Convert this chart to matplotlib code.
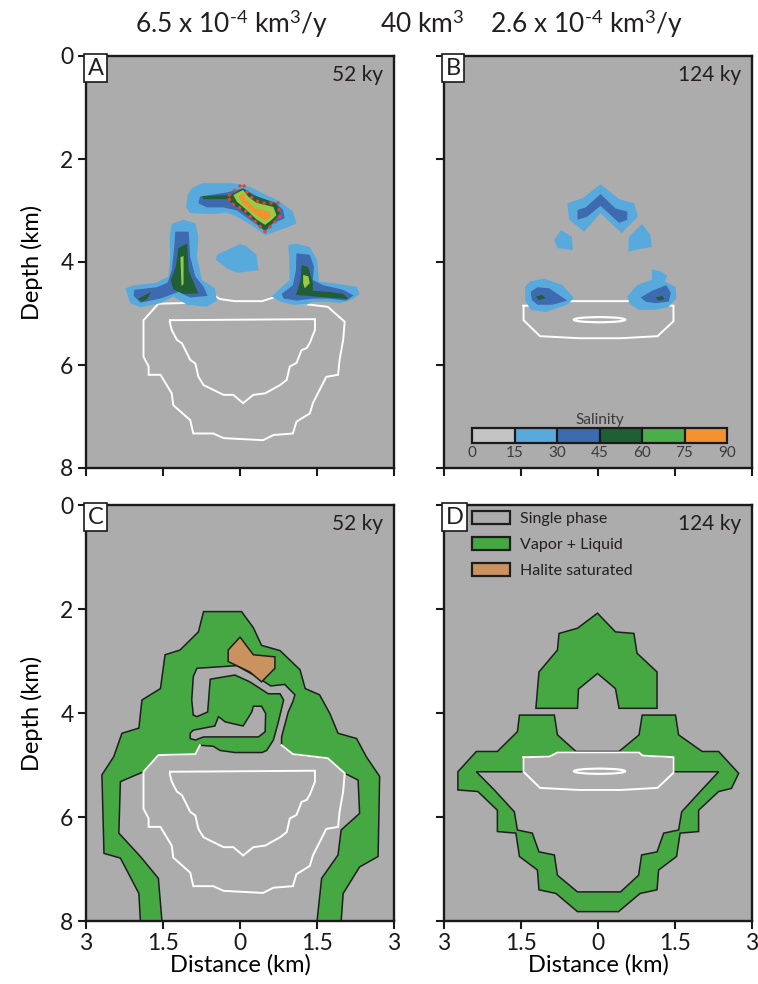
import matplotlib
matplotlib.use("Agg")
import matplotlib.pyplot as plt
from matplotlib.patches import Polygon, Ellipse, Patch
from matplotlib.colors import ListedColormap, BoundaryNorm
from matplotlib.colorbar import ColorbarBase

plt.rcParams['font.family'] = ['Lato', 'DejaVu Sans']
plt.rcParams['mathtext.fontset'] = 'custom'
plt.rcParams['mathtext.rm'] = 'Lato'
plt.rcParams['mathtext.it'] = 'Lato:italic'
plt.rcParams['text.color'] = '#231f20'

# ---------------- data: (distance km, depth km) ----------------
header = [r"6.5 x 10$^{\text{-4}}$ km$^{3}$/y", r"40 km$^{3}$", r"2.6 x 10$^{\text{-4}}$ km$^{3}$/y"]
times = ['52 ky', '124 ky', '52 ky', '124 ky']
panel_letters = ['A', 'B', 'C', 'D']
x_ticks = [-3, -1.5, 0, 1.5, 3]
x_ticklabels = ['3', '1.5', '0', '1.5', '3']
depth_ticks = [0, 2, 4, 6, 8]

sal_bounds = [0, 15, 30, 45, 60, 75, 90]
sal_colors = ['#c4c4c4', '#58aadd', '#3e6ab0', '#1f5f33', '#4cae4a', '#f3922e']
phase_labels = ['Single phase', 'Vapor + Liquid', 'Halite saturated']

# temperature-like white contours, 52 ky (outer starts right of the top arc)
outer52 = [(0.81, 4.62), (1.03, 4.79), (1.71, 4.87), (2.04, 5.16), (2.01, 5.51), (1.94, 5.90),
           (1.91, 6.19), (1.68, 6.23), (1.42, 6.74), (1.36, 6.94), (1.10, 7.10), (1.03, 7.33),
           (0.65, 7.36), (0.45, 7.46), (-0.32, 7.42), (-0.52, 7.33), (-0.91, 7.33), (-0.97, 7.07),
           (-1.30, 6.78), (-1.33, 6.55), (-1.55, 6.19), (-1.78, 6.19), (-1.78, 6.03), (-1.88, 5.84),
           (-1.88, 5.13), (-1.59, 4.81), (-0.87, 4.79), (-0.78, 4.62)]
arc52 = [(-0.52, 4.64), (-0.39, 4.72), (-0.10, 4.76), (0.43, 4.76), (0.62, 4.70)]
inner52 = [(-1.36, 5.13), (1.46, 5.11), (1.46, 5.32), (1.36, 5.57), (1.30, 5.67), (1.20, 5.71),
           (1.10, 5.96), (0.97, 6.03), (0.91, 6.29), (0.78, 6.39), (0.49, 6.55), (0.26, 6.58),
           (0.06, 6.74), (-0.13, 6.58), (-0.32, 6.58), (-0.71, 6.39), (-0.81, 6.23), (-0.87, 5.97),
           (-0.97, 5.90), (-1.13, 5.58), (-1.23, 5.51), (-1.33, 5.32), (-1.37, 5.16)]

# 124 ky white contour and small closed loop
contour124 = [(-1.45, 4.85), (-0.95, 4.84), (-0.79, 4.76), (0.80, 4.76), (0.87, 4.82), (1.47, 4.85),
              (1.47, 5.15), (1.16, 5.44), (0.45, 5.48), (-0.37, 5.48), (-1.13, 5.44), (-1.45, 5.13)]
loop124 = (0.03, 5.12, 1.0, 0.1)  # centre x, centre depth, width, height

# panel A salinity (15-30, 30-45, 45-60, 60-75, 75-90)
a_sal15 = [
    [(-0.94, 2.57), (-0.74, 2.47), (-0.13, 2.47), (0.19, 2.54), (0.78, 2.83), (1.03, 3.02),
     (1.10, 3.25), (0.91, 3.33), (0.49, 3.48), (0.26, 3.31), (-0.06, 3.12), (-0.26, 3.04),
     (-0.52, 3.07), (-0.97, 3.05), (-1.05, 2.93), (-1.02, 2.70)],
    [(-1.33, 3.26), (-1.10, 3.18), (-0.87, 3.25), (-0.81, 3.51), (-0.84, 3.90), (-0.74, 4.35),
     (-0.49, 4.51), (-0.45, 4.75), (-0.65, 4.87), (-1.03, 4.83), (-1.30, 4.67), (-1.55, 4.80),
     (-1.94, 4.88), (-2.14, 4.80), (-2.23, 4.51), (-2.07, 4.45), (-1.65, 4.41), (-1.39, 4.28),
     (-1.36, 3.90), (-1.37, 3.51)],
    [(0.94, 3.67), (1.10, 3.64), (1.36, 3.71), (1.50, 3.96), (1.54, 4.38), (1.81, 4.41),
     (2.27, 4.48), (2.33, 4.62), (2.20, 4.72), (1.94, 4.80), (1.71, 4.77), (1.42, 4.77),
     (1.30, 4.83), (1.03, 4.83), (0.78, 4.77), (0.62, 4.67), (0.76, 4.53), (0.97, 4.35),
     (0.96, 3.96)],
    [(-0.45, 3.86), (0.00, 3.65), (0.13, 3.70), (0.32, 3.86), (0.36, 4.16), (-0.06, 4.21),
     (-0.26, 4.12), (-0.47, 3.96)],
]
a_sal30 = [
    [(-0.78, 2.73), (-0.26, 2.65), (0.06, 2.57), (0.39, 2.76), (0.71, 2.86), (0.84, 2.99),
     (0.87, 3.15), (0.65, 3.25), (0.49, 3.39), (0.19, 3.18), (-0.06, 3.00), (-0.32, 2.94),
     (-0.65, 2.94), (-0.81, 2.86)],
    [(-1.26, 3.41), (-1.00, 3.41), (-0.97, 3.90), (-0.87, 4.28), (-0.71, 4.48), (-0.63, 4.66),
     (-0.97, 4.69), (-1.20, 4.58), (-1.55, 4.71), (-1.94, 4.79), (-2.07, 4.66), (-2.06, 4.54),
     (-1.62, 4.49), (-1.41, 4.40), (-1.33, 4.16), (-1.28, 3.70)],
    [(1.10, 3.83), (1.36, 3.86), (1.44, 4.09), (1.42, 4.35), (1.62, 4.45), (2.01, 4.54),
     (2.21, 4.65), (2.07, 4.75), (1.71, 4.71), (1.42, 4.71), (1.10, 4.75), (0.85, 4.71),
     (0.81, 4.62), (1.03, 4.45), (1.09, 4.16)],
]
a_sal45 = [
    [(-0.74, 2.72), (-0.19, 2.70), (0.06, 2.57), (0.26, 2.70), (0.71, 2.86), (0.78, 3.05),
     (0.65, 3.22), (0.49, 3.41), (0.26, 3.18), (-0.06, 2.93), (-0.26, 2.78), (-0.71, 2.78)],
    [(-1.20, 3.73), (-1.03, 3.64), (-1.00, 4.16), (-0.87, 4.48), (-0.81, 4.61), (-1.10, 4.62),
     (-1.30, 4.53), (-1.35, 4.35), (-1.25, 4.09)],
    [(-1.99, 4.72), (-1.73, 4.58), (-1.81, 4.72), (-1.91, 4.77)],
    [(1.20, 4.06), (1.33, 4.10), (1.42, 4.41), (1.42, 4.56), (1.75, 4.58), (2.01, 4.62),
     (2.12, 4.72), (1.71, 4.69), (1.36, 4.66), (1.09, 4.64), (1.18, 4.35)],
]
a_sal60 = [
    [(-0.13, 2.70), (0.06, 2.60), (0.16, 2.73), (0.32, 2.85), (0.65, 2.93), (0.71, 3.09),
     (0.62, 3.18), (0.49, 3.28), (0.32, 3.17), (0.13, 2.99), (-0.06, 2.83)],
    [(-1.16, 3.91), (-1.10, 3.88), (-1.10, 4.43), (-1.14, 4.46)],
    [(1.23, 4.25), (1.33, 4.28), (1.36, 4.41), (1.26, 4.51), (1.23, 4.41)],
]
a_sal75 = [
    [(-0.03, 2.73), (0.06, 2.67), (0.13, 2.80), (0.29, 2.96), (0.58, 3.02), (0.60, 3.12),
     (0.49, 3.20), (0.26, 3.04), (0.06, 2.86)],
]
a_halite = [(-0.23, 2.72), (0.06, 2.47), (0.12, 2.63), (0.26, 2.78), (0.42, 2.86), (0.74, 2.85),
            (0.78, 3.12), (0.49, 3.41), (0.26, 3.18), (0.10, 3.00), (-0.19, 2.85)]

# panel B salinity
b_sal15 = [
    [(-0.60, 2.86), (-0.30, 2.76), (0.05, 2.49), (0.41, 2.78), (0.70, 2.86), (0.78, 3.12),
     (0.46, 3.44), (0.05, 3.05), (-0.27, 3.41), (-0.56, 3.18)],
    [(-0.85, 3.57), (-0.72, 3.38), (-0.51, 3.51), (-0.49, 3.77), (-0.79, 3.73)],
    [(0.60, 3.51), (0.86, 3.26), (1.02, 3.48), (1.05, 3.71), (0.80, 3.75), (0.59, 3.80)],
    [(-1.42, 4.48), (-1.33, 4.38), (-1.05, 4.32), (-0.69, 4.45), (-0.47, 4.70), (-0.60, 4.83),
     (-1.02, 4.97), (-1.31, 4.93), (-1.42, 4.74)],
    [(0.57, 4.67), (0.76, 4.45), (1.05, 4.34), (1.05, 4.14), (1.24, 4.19), (1.35, 4.27),
     (1.30, 4.38), (1.51, 4.48), (1.53, 4.70), (1.38, 4.87), (1.12, 4.93), (0.80, 4.93),
     (0.62, 4.82)],
]
b_sal30 = [
    [(-0.40, 2.99), (-0.24, 2.94), (0.05, 2.68), (0.34, 2.96), (0.57, 3.02), (0.57, 3.18),
     (0.41, 3.24), (0.05, 2.91), (-0.21, 3.12), (-0.40, 3.18)],
    [(-1.31, 4.58), (-1.18, 4.49), (-0.95, 4.51), (-0.60, 4.75), (-0.89, 4.83), (-1.18, 4.83),
     (-1.29, 4.74)],
    [(0.83, 4.69), (1.05, 4.56), (1.33, 4.45), (1.42, 4.60), (1.38, 4.77), (1.12, 4.80),
     (0.93, 4.77)],
]
b_sal45 = [
    [(-1.21, 4.67), (-1.08, 4.64), (-1.02, 4.70), (-1.15, 4.74)],
    [(1.12, 4.69), (1.25, 4.66), (1.30, 4.72), (1.18, 4.75)],
]

# panel C phases
c_two_phase = [(-1.94, 8.3), (-1.94, 8.01), (-1.97, 7.47), (-2.33, 6.79), (-2.65, 6.70),
               (-2.69, 5.19), (-2.46, 4.84), (-2.30, 4.39), (-1.97, 4.29), (-1.91, 3.75),
               (-1.55, 3.53), (-1.46, 2.88), (-1.17, 2.79), (-0.81, 2.44), (-0.71, 2.05),
               (0.03, 2.05), (0.26, 2.36), (0.42, 2.70), (0.78, 2.80), (1.17, 3.17), (1.27, 3.53),
               (1.55, 3.65), (1.75, 4.01), (1.91, 4.39), (2.27, 4.49), (2.46, 4.84), (2.72, 5.22),
               (2.69, 6.76), (2.33, 6.96), (2.01, 7.47), (1.97, 8.01), (1.97, 8.3)]
c_single = [(1.50, 8.3), (1.50, 8.01), (1.59, 7.18), (1.91, 6.73), (1.97, 6.25), (2.33, 5.93),
            (2.30, 5.29), (2.04, 5.16), (1.71, 4.87), (1.03, 4.79), (0.81, 4.62), (0.81, 4.46),
            (0.94, 3.98), (1.03, 3.78), (1.07, 3.65), (0.87, 3.45), (0.60, 3.48), (0.32, 3.30),
            (-0.06, 3.09), (-0.84, 3.14), (-0.91, 3.30), (-0.94, 3.75), (-0.91, 4.04),
            (-0.84, 4.07), (-0.63, 3.98), (-0.58, 3.35), (-0.10, 3.27), (0.19, 3.40), (0.55, 3.63),
            (0.78, 3.63), (0.85, 3.75), (0.74, 4.20), (0.65, 4.52), (0.52, 4.72), (0.43, 4.76),
            (-0.10, 4.76), (-0.39, 4.72), (-0.52, 4.64), (-0.78, 4.62), (-0.87, 4.79),
            (-1.59, 4.81), (-1.88, 5.13), (-2.33, 5.32), (-2.36, 6.31), (-1.94, 6.76),
            (-1.59, 7.18), (-1.52, 8.01), (-1.52, 8.3)]
c_single_hook = [(-0.97, 4.39), (-0.91, 4.33), (-0.49, 4.25), (-0.42, 4.07), (-0.29, 4.17),
                 (0.06, 4.25), (0.23, 3.98), (0.26, 3.87), (0.42, 3.87), (0.50, 4.01), (0.49, 4.36),
                 (0.36, 4.46), (-0.71, 4.46), (-0.87, 4.52), (-0.97, 4.49)]
c_halite = [(-0.23, 2.79), (0.00, 2.54), (0.26, 2.88), (0.68, 2.92), (0.68, 3.14), (0.42, 3.40),
            (0.19, 3.21), (-0.23, 3.01)]

# panel D phases
d_cap = [(-1.21, 3.91), (-1.15, 3.21), (-0.79, 2.79), (-0.76, 2.47), (-0.40, 2.37), (-0.01, 2.08),
         (0.34, 2.44), (0.70, 2.47), (0.76, 2.85), (1.15, 3.21), (1.15, 3.91), (0.41, 3.91),
         (0.34, 3.53), (-0.01, 3.24), (-0.38, 3.54), (-0.40, 3.91)]
d_ring = [(-1.53, 4.04), (-0.85, 4.04), (-0.79, 4.42), (-0.43, 4.74), (0.41, 4.74), (0.80, 4.42),
          (0.86, 4.04), (1.51, 4.04), (1.57, 4.42), (2.03, 4.74), (2.35, 4.74), (2.74, 5.16),
          (2.60, 5.45), (2.35, 5.51), (1.96, 5.87), (1.96, 6.28), (1.60, 6.31), (1.53, 6.76),
          (1.18, 7.02), (1.15, 7.40), (0.82, 7.47), (0.40, 7.82), (-0.40, 7.82), (-0.82, 7.47),
          (-1.15, 7.40), (-1.18, 7.02), (-1.53, 6.76), (-1.60, 6.31), (-1.96, 6.28), (-1.96, 5.87),
          (-2.34, 5.51), (-2.73, 5.48), (-2.73, 5.13), (-2.37, 4.74), (-1.96, 4.74), (-1.57, 4.36)]
d_hole = [(-2.37, 5.13), (-1.45, 5.13), (-1.45, 4.85), (-0.95, 4.84), (-0.79, 4.76), (0.80, 4.76),
          (0.87, 4.82), (1.47, 4.85), (1.47, 5.13), (2.35, 5.13), (2.02, 5.48), (1.63, 5.90),
          (1.57, 6.25), (1.28, 6.31), (1.15, 6.67), (0.85, 6.73), (0.79, 7.12), (0.44, 7.44),
          (-0.40, 7.44), (-0.79, 7.12), (-0.85, 6.73), (-1.15, 6.67), (-1.28, 6.31), (-1.57, 6.25),
          (-1.63, 5.90), (-2.02, 5.48)]

# ---------------- style ----------------
BG = '#acacac'
GREEN = '#46a843'
TAN = '#c9925f'
LIGHT_GREEN_A = '#98cb46'
EDGE = '#1e1e1e'


def poly(ax, pts, fc, ec='none', lw=0.0, z=2):
    ax.add_patch(Polygon(pts, closed=True, facecolor=fc, edgecolor=ec, linewidth=lw,
                         zorder=z, joinstyle='miter'))


def line(ax, pts, closed=True, z=4, color='white', lw=1.4):
    xs = [p[0] for p in pts]
    ys = [p[1] for p in pts]
    if closed:
        xs.append(xs[0])
        ys.append(ys[0])
    ax.plot(xs, ys, color=color, lw=lw, zorder=z, solid_joinstyle='miter')


def setup(ax, letter, time, show_x, show_y):
    ax.set_facecolor(BG)
    ax.set_xlim(-3, 3)
    ax.set_ylim(8, 0)
    ax.set_xticks(x_ticks)
    ax.set_yticks(depth_ticks)
    ax.set_xticklabels(x_ticklabels if show_x else [])
    ax.set_yticklabels([str(d) for d in depth_ticks] if show_y else [])
    for s in ax.spines.values():
        s.set_linewidth(1.7)
        s.set_color('#1a1a1a')
        s.set_zorder(12)
    ax.tick_params(direction='out', length=6, width=1.5, labelsize=16.5, pad=3, colors='#1a1a1a')
    if show_y:
        ax.set_ylabel('Depth (km)', fontsize=17, labelpad=12)
    if show_x:
        ax.set_xlabel('Distance (km)', fontsize=17, labelpad=0)
    ax.text(0.005, 0.996, letter, transform=ax.transAxes, ha='left', va='top', fontsize=17,
            zorder=15, bbox=dict(boxstyle='square,pad=0.16', fc='white', ec='#1a1a1a', lw=1.2))
    ax.text(0.965, 0.978, time, transform=ax.transAxes, ha='right', va='top', fontsize=15,
            zorder=15)


fig = plt.figure(figsize=(7.58, 9.84), dpi=100)
W, H = 758, 984
axA = fig.add_axes([86 / W, 1 - 468 / H, 308 / W, 412 / H])
axB = fig.add_axes([444 / W, 1 - 468 / H, 308 / W, 412 / H])
axC = fig.add_axes([86 / W, 1 - 921 / H, 308 / W, 416 / H])
axD = fig.add_axes([444 / W, 1 - 921 / H, 308 / W, 416 / H])

setup(axA, 'A', times[0], False, True)
setup(axB, 'B', times[1], False, False)
setup(axC, 'C', times[2], True, True)
setup(axD, 'D', times[3], True, False)

# the 1.5 tick at the bottom of C sits inside the green strip
axC.xaxis.get_major_ticks()[1].tick1line.set_color(GREEN)

# header
for txt, xc in zip(header, [232, 422, 587]):
    fig.text(xc / W, 1 - 24 / H, txt, ha='center', va='center', fontsize=19)

# ---- A ----
line(axA, outer52 + arc52, closed=True, z=2)
line(axA, inner52, closed=True, z=2)
for p in a_sal15:
    poly(axA, p, sal_colors[1], z=3)
for p in a_sal30:
    poly(axA, p, sal_colors[2], z=4)
for p in a_sal45:
    poly(axA, p, sal_colors[3], z=5)
for p in a_sal60:
    poly(axA, p, LIGHT_GREEN_A, z=6)
for p in a_sal75:
    poly(axA, p, sal_colors[5], z=7)
axA.add_patch(Polygon(a_halite, closed=True, fill=False, edgecolor='#e0463d', linewidth=2.2,
                      linestyle=(0, (1, 1.3)), zorder=8))

# ---- B ----
line(axB, contour124, closed=True, z=2)
axB.add_patch(Ellipse((loop124[0], loop124[1]), loop124[2], loop124[3], fill=False,
                      edgecolor='white', linewidth=1.6, zorder=2))
for p in b_sal15:
    poly(axB, p, sal_colors[1], z=3)
for p in b_sal30:
    poly(axB, p, sal_colors[2], z=4)
for p in b_sal45:
    poly(axB, p, sal_colors[3], z=5)

cax = fig.add_axes([472 / W, 1 - 443 / H, 255 / W, 15 / H])
cmap = ListedColormap(sal_colors)
norm = BoundaryNorm(sal_bounds, cmap.N)
cb = ColorbarBase(cax, cmap=cmap, norm=norm, orientation='horizontal', ticks=sal_bounds,
                  drawedges=True)
cb.outline.set_linewidth(1.6)
cb.outline.set_edgecolor('#1a1a1a')
cb.dividers.set_linewidth(1.6)
cb.dividers.set_color('#1a1a1a')
cax.tick_params(length=0, labelsize=11, pad=2, labelcolor='#3a3a3a')
cax.set_title('Salinity', fontsize=11, pad=3, color='#3a3a3a')

# ---- C ----
poly(axC, c_two_phase, GREEN, EDGE, 1.1, z=2)
poly(axC, c_single, BG, EDGE, 1.1, z=3)
poly(axC, c_single_hook, BG, EDGE, 1.1, z=3)
poly(axC, c_halite, TAN, EDGE, 1.1, z=3)
line(axC, outer52, closed=False, z=4)
line(axC, inner52, closed=True, z=4)

# ---- D ----
poly(axD, d_cap, GREEN, EDGE, 1.1, z=2)
poly(axD, d_ring, GREEN, EDGE, 1.1, z=2)
poly(axD, d_hole, BG, EDGE, 1.1, z=3)
line(axD, contour124, closed=True, z=4)
axD.add_patch(Ellipse((loop124[0], loop124[1]), loop124[2], loop124[3], fill=False,
                      edgecolor='white', linewidth=1.6, zorder=4))

handles = [Patch(facecolor=BG, edgecolor=EDGE, linewidth=1.6),
           Patch(facecolor=GREEN, edgecolor=EDGE, linewidth=1.6),
           Patch(facecolor=TAN, edgecolor=EDGE, linewidth=1.6)]
leg = axD.legend(handles, phase_labels, loc='upper left', bbox_to_anchor=(0.09, 0.985),
                 frameon=False, fontsize=11.5, handlelength=2.4, handleheight=0.85,
                 handletextpad=0.6, labelspacing=0.7, borderpad=0, borderaxespad=0)
leg.set_zorder(20)

fig.savefig('out.png', dpi=100, facecolor='white')
